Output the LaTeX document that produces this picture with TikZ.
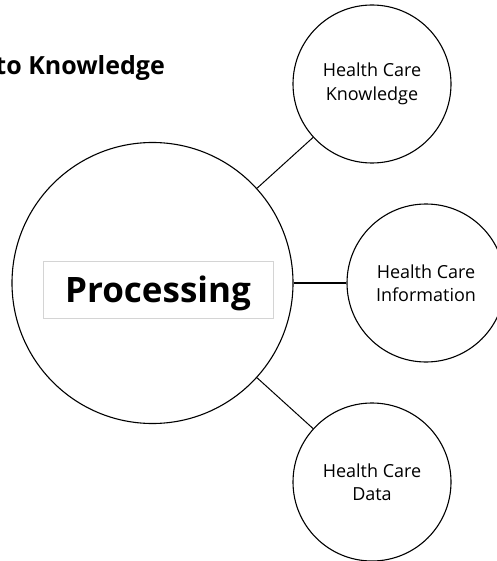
\documentclass[tikz,border=0pt]{standalone}
\usepackage{fontspec}
\setmainfont{Open Sans}
\usetikzlibrary{positioning}
\definecolor{boxgray}{RGB}{212,212,212}
\tikzset{topic/.style = {draw, circle, line width=1.1pt, minimum size=158pt,
                         inner sep=0pt, align=center,
                         font=\fontsize{18}{23.5}\selectfont},
         link/.style = {line width=1pt}}

\begin{document}
\begin{tikzpicture}[x=1pt, y=-1pt]
      \useasboundingbox (0, 0) rectangle (496, 561);
      \node [anchor=base east, font=\fontsize{25}{30}\selectfont\bfseries, inner sep=0pt]
            (title) at (165, 75) {to Knowledge};
      \node [draw, circle, line width=1.1pt, minimum size=281pt, inner sep=0pt] (proc) at (152.5, 283) {};
      \node [draw=boxgray, line width=0.8pt, minimum width=230pt, minimum height=57pt,
             text height=26pt, text depth=0pt, inner sep=0pt,
             font=\fontsize{35}{40}\selectfont\bfseries] (proclabel) at (158, 289.5) {Processing};
      \node [topic] (know) at (372, 84) {Health Care\\Knowledge};
      \node [topic] (info) at (426, 283) {Health Care\\Information};
      \node [topic] (data) at (372, 482) {Health Care\\Data};
      \draw [link] (proc) -- (know);
      \draw [link, line width=1.7pt] (proc) -- (info);
      \draw [link] (proc) -- (data);
    \end{tikzpicture}
\end{document}
